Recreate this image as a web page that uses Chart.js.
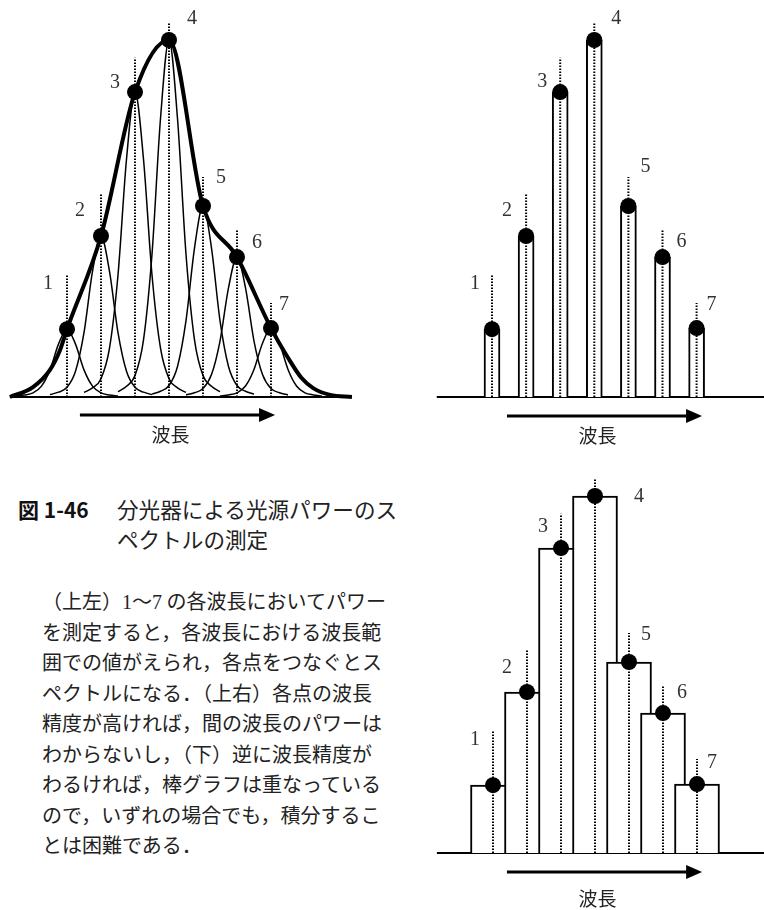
<!DOCTYPE html>
<html lang="ja">
<head>
<meta charset="utf-8">
<title>分光器による光源パワーのスペクトルの測定</title>
<script src="https://cdn.jsdelivr.net/npm/chart.js@4.4.1/dist/chart.umd.min.js"></script>
<style>
  html, body { margin: 0; padding: 0; background: #fff; }
  body {
    width: 764px; height: 910px; position: relative; overflow: hidden;
    font-family: "Noto Sans CJK JP", sans-serif; color: #222;
  }
  canvas { position: absolute; }
  #c1 { left: 0; top: 0; }
  #c2 { left: 380px; top: 0; }
  #c3 { left: 420px; top: 450px; }
  .txt { position: absolute; white-space: nowrap; }
  #figno { left: 18px; top: 494px; font-size: 21px; line-height: 30px; font-weight: bold; color: #111; }
  #title { left: 117px; top: 494px; font-size: 21.6px; line-height: 30px; }
  #note { left: 42px; top: 586px; font-size: 20px; line-height: 30.5px; }
  .num { font-family: "Liberation Serif", serif; line-height: 0; }
</style>
</head>
<body>
<canvas id="c1" width="380" height="450"></canvas>
<canvas id="c2" width="384" height="450"></canvas>
<canvas id="c3" width="344" height="460"></canvas>

<div class="txt" id="figno">図 1-46</div>
<div class="txt" id="title">分光器による光源パワーのス<br>ペクトルの測定</div>
<div class="txt" id="note">（上左）<span class="num">1</span>〜<span class="num">7</span> の各波長においてパワー<br>を測定すると，各波長における波長範<br>囲での値がえられ，各点をつなぐとス<br>ペクトルになる．（上右）各点の波長<br>精度が高ければ，間の波長のパワーは<br>わからないし，（下）逆に波長精度が<br>わるければ，棒グラフは重なっている<br>ので，いずれの場合でも，積分するこ<br>とは困難である．</div>

<script>
// 測定した波長の番号と，各点のパワー（最大を 100 とした相対値）
const steps = [1, 2, 3, 4, 5, 6, 7];
const stepLabels = ['1', '2', '3', '4', '5', '6', '7'];
const power = [19, 45.1, 85.4, 100, 53.5, 39.2, 19.3];
// 各波長の点線の上端
const markerTop = [34, 57, 95, 105, 61.6, 47, 26.3];

// 分光器の波長分解（中心からのステップ数と，ピークに対する比）
const slitOffset = [-1.5, -1.25, -1, -0.75, -0.5, -0.25, 0, 0.25, 0.5, 0.75, 1, 1.25, 1.5];
const slitShape = [0.015, 0.03, 0.06, 0.16, 0.4, 0.78, 1, 0.78, 0.4, 0.16, 0.06, 0.03, 0.015];

// スペクトル（包絡線）の裾
const tailLeftX = [-0.68, 0, 0.5, 0.79];
const tailLeftY = [0, 2.8, 7.6, 13];
const tailRightX = [7.5, 7.9, 8.24, 8.74, 9.38];
const tailRightY = [11, 5.3, 2.5, 0.6, 0];

const pts = (xs, ys) => xs.map((x, i) => ({ x, y: ys[i] }));
const markerPts = () => steps.flatMap((s, i) => [{ x: s, y: 0 }, { x: s, y: markerTop[i] }, { x: s, y: null }]);

// キャンバス上の位置から軸の範囲を決める（1 ステップの幅 unitPx，縦 3.57px/単位）
const YPX = 3.57;
const frame = (w, h, firstPx, unitPx, basePx) => ({
  x: { type: 'linear', display: false, offset: false, min: 1 - firstPx / unitPx, max: 1 + (w - firstPx) / unitPx },
  y: { type: 'linear', display: false, min: -(h - basePx) / YPX, max: basePx / YPX }
});

// 基線，番号，波長の矢印
const decor = {
  id: 'decor',
  beforeDatasetsDraw(chart, args, o) {
    const { ctx, scales: { x, y } } = chart;
    const y0 = y.getPixelForValue(0);
    ctx.save();
    ctx.strokeStyle = '#000';
    ctx.lineWidth = 2;
    ctx.beginPath();
    ctx.moveTo(x.getPixelForValue(o.axis[0]), y0);
    ctx.lineTo(x.getPixelForValue(o.axis[1]), y0);
    ctx.stroke();
    ctx.restore();
  },
  afterDraw(chart, args, o) {
    const { ctx, scales: { x, y } } = chart;
    const y0 = y.getPixelForValue(0);
    ctx.save();
    ctx.font = '20px "Liberation Serif", serif';
    ctx.fillStyle = '#333';
    ctx.textAlign = 'center';
    ctx.textBaseline = 'middle';
    stepLabels.forEach((t, i) => {
      const [dx, dy] = o.labelOffset[i];
      ctx.fillText(t, x.getPixelForValue(steps[i]) + dx, y.getPixelForValue(markerTop[i]) + dy);
    });

    const ay = y0 + o.arrowGap;
    const a0 = x.getPixelForValue(o.arrow[0]);
    const a1 = x.getPixelForValue(o.arrow[1]);
    ctx.strokeStyle = '#000';
    ctx.fillStyle = '#000';
    ctx.lineWidth = 3;
    ctx.beginPath();
    ctx.moveTo(a0, ay);
    ctx.lineTo(a1 - 12, ay);
    ctx.stroke();
    ctx.beginPath();
    ctx.moveTo(a1, ay);
    ctx.lineTo(a1 - 16, ay - 7);
    ctx.lineTo(a1 - 16, ay + 7);
    ctx.closePath();
    ctx.fill();

    ctx.font = '19px "Noto Sans CJK JP", sans-serif';
    ctx.fillStyle = '#222';
    ctx.fillText('波長', (a0 + a1) / 2 - 7, ay + o.titleGap);
    ctx.restore();
  }
};

const options = (scales, decorOpts) => ({
  responsive: false,
  animation: false,
  events: [],
  layout: { padding: 0, autoPadding: false },
  scales,
  plugins: { legend: { display: false }, tooltip: { enabled: false }, decor: decorOpts }
});

// 測定点（黒丸）と点線，グラフごとに新しく作る
const dotSet = () => ({
  type: 'line', data: pts(steps, power), showLine: false, order: 0,
  pointRadius: 8, pointBackgroundColor: '#000', pointBorderWidth: 0
});
const markerSet = (order) => ({
  type: 'line', data: markerPts(), borderColor: '#000', borderWidth: 2, borderDash: [1.5, 1.5],
  pointRadius: 0, spanGaps: false, order
});
const barSet = (thickness) => ({
  type: 'bar', data: pts(steps, power), barThickness: thickness,
  backgroundColor: '#fff', borderColor: '#000', borderWidth: 2, order: 2
});

// 上左：各波長の分解とそれをつないだスペクトル
const slitSets = steps.map((s, i) => ({
  type: 'line',
  data: slitOffset.map((d, k) => ({ x: s + d, y: power[i] * slitShape[k] })),
  borderColor: '#000', borderWidth: 1.5, pointRadius: 0,
  cubicInterpolationMode: 'monotone', order: 3
}));

new Chart(document.getElementById('c1'), {
  type: 'line',
  data: {
    datasets: [
      dotSet(),
      {
        type: 'line',
        data: [...pts(tailLeftX, tailLeftY), ...pts(steps, power), ...pts(tailRightX, tailRightY)],
        borderColor: '#000', borderWidth: 4, pointRadius: 0,
        cubicInterpolationMode: 'monotone', order: 1
      },
      markerSet(2),
      ...slitSets
    ]
  },
  options: options(frame(380, 450, 67, 34, 397), {
    axis: [-0.68, 9.38],
    arrow: [1.38, 7.12], arrowGap: 18, titleGap: 20,
    labelOffset: [[-19, 8], [-21, 17], [-20, 25], [23, -3], [18, 1], [20, 14], [13, 2]]
  }),
  plugins: [decor]
});

// 上右：波長精度が高い場合（細い棒）
new Chart(document.getElementById('c2'), {
  type: 'line',
  data: { datasets: [dotSet(), markerSet(1), barSet(16)] },
  options: options(frame(384, 450, 112, 34.1, 397), {
    axis: [-0.62, 9],
    arrow: [1.44, 7.16], arrowGap: 19, titleGap: 20,
    labelOffset: [[-17, 8], [-19, 17], [-18, 24], [22, -3], [17, -10], [19, 13], [15, 2]]
  }),
  plugins: [decor]
});

// 下：波長精度が低い場合（重なった太い棒）
new Chart(document.getElementById('c3'), {
  type: 'line',
  data: { datasets: [dotSet(), markerSet(1), barSet(45)] },
  options: options(frame(344, 460, 73, 34, 403), {
    axis: [-0.65, 9],
    arrow: [1.41, 7.15], arrowGap: 19, titleGap: 27,
    labelOffset: [[-18, 8], [-20, 18], [-18, 13], [44, 19], [17, 2], [19, 8], [15, 4]]
  }),
  plugins: [decor]
});
</script>
</body>
</html>
